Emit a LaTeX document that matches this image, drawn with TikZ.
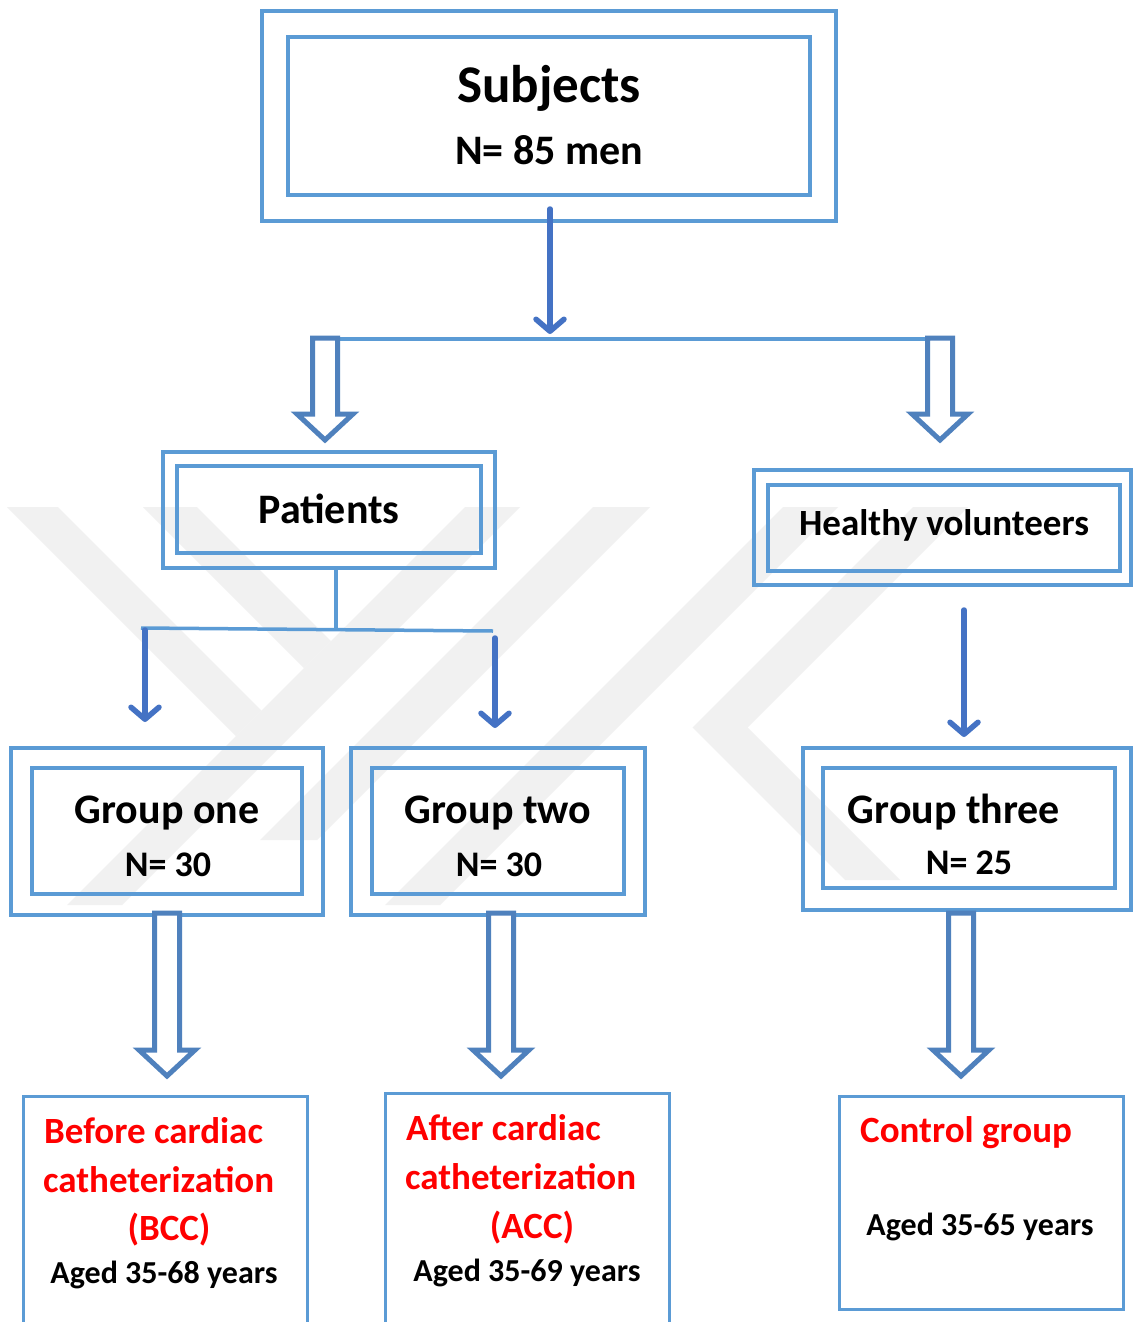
\documentclass[tikz,border=0pt]{standalone}
\usepackage{fontspec}
\setmainfont{Carlito}
\usetikzlibrary{arrows.meta}
\definecolor{boxblue}{HTML}{5B9BD5}
\definecolor{arrblue}{HTML}{4472C4}
\definecolor{hblue}{HTML}{4F81BD}
\definecolor{wm}{RGB}{241,241,241}
\definecolor{txtred}{HTML}{FF0000}
\newcommand\hollowarrow[3]{%
  \draw[hollow] ({#1-12.5},#2) -- ({#1+12.5},#2) -- ({#1+12.5},{#3-26}) -- ({#1+28},{#3-26})
    -- (#1,#3) -- ({#1-28},{#3-26}) -- ({#1-12.5},{#3-26}) -- cycle;}
\begin{document}
\begin{tikzpicture}[x=1pt,y=-1pt,
  outerbox/.style={draw=boxblue, line width=4pt, inner sep=0pt},
  innerbox/.style={draw=boxblue, line width=4pt, inner sep=0pt},
  lowbox/.style={draw=boxblue, line width=2.5pt, inner sep=0pt},
  conn/.style={draw=boxblue, line width=3.5pt},
  thinarrow/.style={draw=arrblue, line width=5.5pt, line cap=round,
     -{Straight Barb[length=12pt,width=28pt,round]}},
  hollow/.style={draw=hblue, line width=5pt, fill=white, line join=miter},
  lbl/.style={anchor=base, inner sep=0pt},
  lblw/.style={anchor=base west, inner sep=0pt},
  fA/.style={font=\fontsize{53}{60}\selectfont\bfseries},
  fB/.style={font=\fontsize{42}{50}\selectfont\bfseries},
  fC/.style={font=\fontsize{37}{44}\selectfont\bfseries},
  fD/.style={font=\fontsize{36}{44}\selectfont\bfseries},
  fE/.style={font=\fontsize{32}{38}\selectfont\bfseries},
  red/.style={text=txtred}
]
\useasboundingbox (0,0) rectangle (1133,1322);
\clip (0,0) rectangle (1133,1322);
\fill[white] (0,0) rectangle (1133,1322);

% watermark
\fill[wm] (7,507) -- (58,507) -- (261.5,710.5) -- (236,736) -- cycle;
\fill[wm] (143,507) -- (197,507) -- (331,641) -- (304,668) -- cycle;
\fill[wm] (465,507) -- (520,507) -- (122,905) -- (67,905) -- cycle;
\fill[wm] (593,507) -- (650,507) -- (317,840) -- (260,840) -- cycle;
\fill[wm] (783,507) -- (838,507) -- (440,905) -- (385,905) -- cycle;
\fill[wm] (913,507) -- (968,507) -- (747.5,727.5) -- (900,880) -- (845,880) -- (692.5,727.5) -- cycle;

% Subjects
\node[outerbox, minimum width=574pt, minimum height=210pt] (subjO) at (549,116) {};
\node[innerbox, minimum width=522pt, minimum height=158pt] (subjI) at (549,116) {};
\node[lbl, fA] (tSubj) at (549,102) {Subjects};
\node[lbl, fB] (tN85) at (549,164) {N= 85 men};

% Patients
\node[outerbox, minimum width=332pt, minimum height=116pt] (patO) at (329,510) {};
\node[innerbox, minimum width=304pt, minimum height=87pt] (patI) at (329,509.5) {};
\node[lbl, fB] (tPat) at (329,523) {Patients};

% Healthy volunteers
\node[outerbox, minimum width=377pt, minimum height=115pt] (heaO) at (942.5,527.5) {};
\node[innerbox, minimum width=352pt, minimum height=86pt] (heaI) at (944,528) {};
\node[lbl, fC] (tHea) at (944,535) {Healthy volunteers};

% Groups
\node[outerbox, minimum width=312pt, minimum height=167pt] (g1O) at (167,831.5) {};
\node[innerbox, minimum width=270pt, minimum height=126pt] (g1I) at (167,831) {};
\node[lbl, fB] (tG1) at (167,823) {Group one};
\node[lbl, fD] (tG1n) at (168,876) {N= 30};

\node[outerbox, minimum width=294pt, minimum height=167pt] (g2O) at (498,831.5) {};
\node[innerbox, minimum width=252pt, minimum height=126pt] (g2I) at (498,831) {};
\node[lbl, fB] (tG2) at (498,823) {Group two};
\node[lbl, fD] (tG2n) at (499,876) {N= 30};

\node[outerbox, minimum width=328pt, minimum height=162pt] (g3O) at (967,829) {};
\node[innerbox, minimum width=292pt, minimum height=120pt] (g3I) at (969,828) {};
\node[lbl, fB] (tG3) at (954,823) {Group three};
\node[lbl, fD] (tG3n) at (969,874) {N= 25};

% bottom boxes
\node[lowbox, minimum width=284pt, minimum height=245pt, anchor=north west] (bcc) at (22,1095) {};
\node[lowbox, minimum width=284pt, minimum height=245pt, anchor=north west] (acc) at (384,1092) {};
\node[lowbox, minimum width=284pt, minimum height=213pt, anchor=north west] (ctl) at (838,1095) {};

\node[lblw, fC, red] (b1) at (44,1143) {Before cardiac};
\node[lblw, fC, red] (b2) at (43,1192) {catheterization};
\node[lbl, fC, red] (b3) at (169,1240) {(BCC)};
\node[lbl, fE] (b4) at (164,1283) {Aged 35-68 years};

\node[lblw, fC, red] (a1) at (406,1140) {After cardiac};
\node[lblw, fC, red] (a2) at (405,1189) {catheterization};
\node[lbl, fC, red] (a3) at (532,1238) {(ACC)};
\node[lbl, fE] (a4) at (527,1281) {Aged 35-69 years};

\node[lblw, fC, red] (c1) at (860,1142) {Control group};
\node[lbl, fE] (c2) at (980,1235) {Aged 35-65 years};

% connectors
\coordinate (sA) at (550,209);
\coordinate (sB) at (550,334);
\coordinate (hL) at (338,339);
\coordinate (hR) at (928,339);
\draw[conn] (hL) -- (hR);
\draw[thinarrow] (sA) -- (sB);
\hollowarrow{325}{338}{440}
\hollowarrow{940}{338}{440}

\coordinate (pv) at (336,570);
\coordinate (pj) at (336,629);
\coordinate (pl) at (141,628);
\coordinate (pr) at (493,631);
\draw[conn] (pv) -- (pj);
\draw[conn] (pl) -- (pr);
\coordinate (l1a) at (145,630);
\coordinate (l1b) at (145,722);
\coordinate (l2a) at (495,638);
\coordinate (l2b) at (495,728);
\draw[thinarrow] (l1a) -- (l1b);
\draw[thinarrow] (l2a) -- (l2b);

\coordinate (hA) at (964,610);
\coordinate (hB) at (964,737);
\draw[thinarrow] (hA) -- (hB);

\hollowarrow{167}{913}{1076}
\hollowarrow{501}{913}{1076}
\hollowarrow{961}{913}{1076}
\end{tikzpicture}
\end{document}
